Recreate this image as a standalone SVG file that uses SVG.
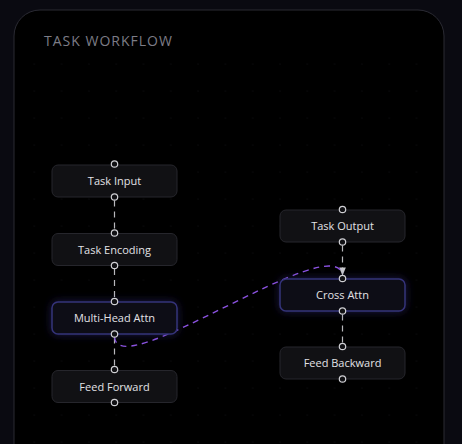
<svg xmlns="http://www.w3.org/2000/svg" width="462" height="444" viewBox="0 0 462 444">
<defs>
<style>
.box{fill:#111114;stroke:#26262c;stroke-width:1}
.hl{fill:#0f0f17;stroke:#34337a;stroke-width:1.5}
.lbl{font-family:"Open Sans","Noto Sans",sans-serif;font-size:11px;fill:#e2e2e6;text-anchor:middle}
.port{fill:#111114;stroke:#d0d0d4;stroke-width:1.2}
.conn{fill:none;stroke:#b8b8bc;stroke-width:1.2;stroke-dasharray:6 5}
.flow{fill:none;stroke:#8b52e0;stroke-width:1.4;stroke-dasharray:6 5}
</style>
<pattern id="grid" x="6" y="9" width="27.3" height="27" patternUnits="userSpaceOnUse">
<circle cx="1" cy="1" r="0.6" fill="#121218"/>
</pattern>
<filter id="glow" x="-30%" y="-60%" width="160%" height="220%">
<feGaussianBlur in="SourceAlpha" stdDeviation="4" result="b"/>
<feFlood flood-color="#3a3290" flood-opacity="0.5"/>
<feComposite operator="in" in2="b" result="g"/>
<feMerge><feMergeNode in="g"/><feMergeNode in="SourceGraphic"/></feMerge>
</filter>
<marker id="arr" viewBox="0 0 10 10" refX="9" refY="5" markerWidth="7" markerHeight="7" orient="auto">
<path d="M0,1 L10,5 L0,9 z" fill="#c8c8cc"/>
</marker>
</defs>
<rect width="462" height="444" fill="#0a0a11"/>
<rect x="14" y="10" width="430" height="460" rx="26" fill="#000000" stroke="#2a2a33" stroke-width="1"/>
<rect x="20" y="55" width="418" height="389" fill="url(#grid)"/>
<text x="44" y="46" font-family="'Open Sans','Noto Sans',sans-serif" font-size="14" letter-spacing="1" fill="#7c7c86">TASK WORKFLOW</text>

<g id="connectors">
<line class="conn" x1="114.5" y1="200.5" x2="114.5" y2="230"/>
<line class="conn" x1="114.5" y1="269" x2="114.5" y2="298.5"/>
<line class="conn" x1="114.5" y1="337.5" x2="114.5" y2="367"/>
<line class="conn" x1="342.5" y1="245.5" x2="342.5" y2="275" marker-end="url(#arr)"/>
<line class="conn" x1="342.5" y1="314.5" x2="342.5" y2="343.5"/>
<path class="flow" d="M114.5,337 C118,385 330,230 342.5,274"/>
</g>

<g id="task-input">
<rect class="box" x="52" y="165" width="125" height="32" rx="6"/>
<text class="lbl" x="114.5" y="185">Task Input</text>
<circle class="port" cx="114.5" cy="164" r="3.2"/>
<circle class="port" cx="114.5" cy="197" r="3.2"/>
</g>
<g id="task-encoding">
<rect class="box" x="52" y="233.5" width="125" height="32" rx="6"/>
<text class="lbl" x="114.5" y="253.5">Task Encoding</text>
<circle class="port" cx="114.5" cy="233" r="3.2"/>
<circle class="port" cx="114.5" cy="265.5" r="3.2"/>
</g>
<g id="multi-head-attn">
<rect class="hl" x="52" y="302" width="125" height="32" rx="6" filter="url(#glow)"/>
<text class="lbl" x="114.5" y="322">Multi-Head Attn</text>
<circle class="port" cx="114.5" cy="301.5" r="3.2"/>
<circle class="port" cx="114.5" cy="334" r="3.2"/>
</g>
<g id="feed-forward">
<rect class="box" x="52" y="370.5" width="125" height="32" rx="6"/>
<text class="lbl" x="114.5" y="390.5">Feed Forward</text>
<circle class="port" cx="114.5" cy="369.5" r="3.2"/>
<circle class="port" cx="114.5" cy="402.5" r="3.2"/>
</g>
<g id="task-output">
<rect class="box" x="280" y="210" width="125" height="32" rx="6"/>
<text class="lbl" x="342.5" y="230">Task Output</text>
<circle class="port" cx="342.5" cy="209.5" r="3.2"/>
<circle class="port" cx="342.5" cy="242" r="3.2"/>
</g>
<g id="cross-attn">
<rect class="hl" x="280" y="279" width="125" height="32" rx="6" filter="url(#glow)"/>
<text class="lbl" x="342.5" y="299">Cross Attn</text>
<circle class="port" cx="342.5" cy="278.5" r="3.2"/>
<circle class="port" cx="342.5" cy="311" r="3.2"/>
</g>
<g id="feed-backward">
<rect class="box" x="280" y="347" width="125" height="32" rx="6"/>
<text class="lbl" x="342.5" y="367">Feed Backward</text>
<circle class="port" cx="342.5" cy="346.5" r="3.2"/>
<circle class="port" cx="342.5" cy="379" r="3.2"/>
</g>
</svg>
